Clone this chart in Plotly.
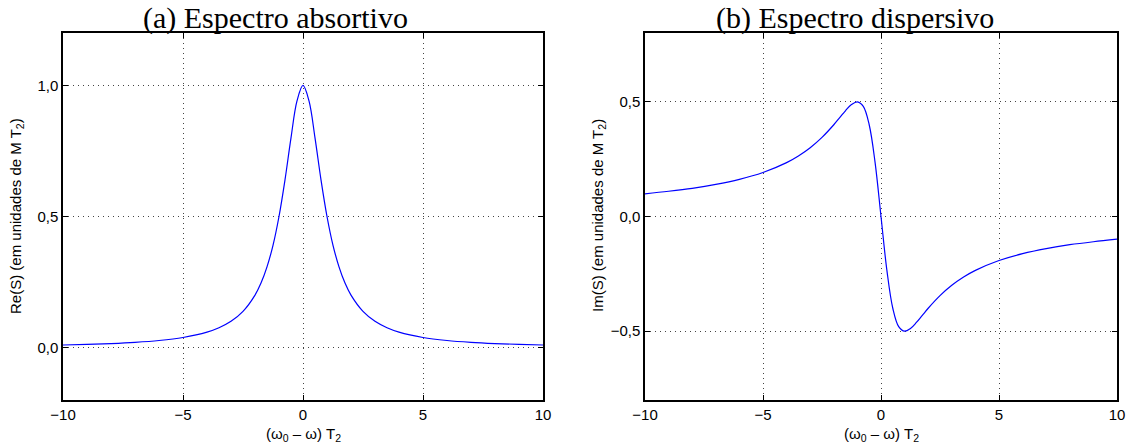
import plotly.graph_objects as go

# Frequency offset (omega0 - omega) T2
x_vals = [-10, -9, -8, -7, -6, -5, -4, -3.5, -3, -2.5, -2, -1.75, -1.5, -1.25, -1,
          -0.75, -0.5, -0.25, 0, 0.25, 0.5, 0.75, 1, 1.25, 1.5, 1.75, 2, 2.5, 3,
          3.5, 4, 5, 6, 7, 8, 9, 10]

# (a) absorptive spectrum Re(S)
re_vals = [0.0099, 0.0122, 0.0154, 0.020, 0.027, 0.0385, 0.0588, 0.0755, 0.100,
           0.138, 0.200, 0.246, 0.308, 0.390, 0.500, 0.640, 0.800, 0.941, 1.000,
           0.941, 0.800, 0.640, 0.500, 0.390, 0.308, 0.246, 0.200, 0.138, 0.100,
           0.0755, 0.0588, 0.0385, 0.027, 0.020, 0.0154, 0.0122, 0.0099]

# (b) dispersive spectrum Im(S)
im_vals = [0.099, 0.110, 0.123, 0.140, 0.162, 0.192, 0.235, 0.264, 0.300, 0.345,
           0.400, 0.431, 0.462, 0.488, 0.500, 0.480, 0.400, 0.235, 0.000,
           -0.235, -0.400, -0.480, -0.500, -0.488, -0.462, -0.431, -0.400, -0.345,
           -0.300, -0.264, -0.235, -0.192, -0.162, -0.140, -0.123, -0.110, -0.099]

x_ticks = [-10, -5, 0, 5, 10]
re_ticks = [0.0, 0.5, 1.0]
im_ticks = [-0.5, 0.0, 0.5]

titles = ["(a) Espectro absortivo", "(b) Espectro dispersivo"]
xlabel = "(ω<sub>0</sub> – ω) T<sub>2</sub>"
ylabels = ["Re(S) (em unidades de M T<sub>2</sub>)", "Im(S) (em unidades de M T<sub>2</sub>)"]

W, H = 1141, 448
left_dom = [63 / W, 543 / W]
right_dom = [645 / W, 1117 / W]
y_dom = [1 - 400 / H, 1 - 33 / H]

fig = go.Figure()
line = dict(color="#0000ff", width=1.2, shape="spline", smoothing=1.0)
fig.add_trace(go.Scatter(x=x_vals, y=re_vals, mode="lines", line=line,
                         xaxis="x", yaxis="y", showlegend=False))
fig.add_trace(go.Scatter(x=x_vals, y=im_vals, mode="lines", line=line,
                         xaxis="x2", yaxis="y2", showlegend=False))

tickfont = dict(family="Liberation Sans, Arial, sans-serif", size=15, color="black")
common = dict(showline=True, linecolor="black", linewidth=1.5, mirror="ticks",
              ticks="inside", ticklen=5, tickcolor="black", tickwidth=1,
              showgrid=True, gridcolor="#444444", gridwidth=1, griddash="1px,4px",
              zeroline=False, tickfont=tickfont, automargin=False)

fig.update_layout(
    width=W, height=H,
    margin=dict(l=0, r=0, t=0, b=0, autoexpand=False),
    paper_bgcolor="white", plot_bgcolor="white",
    separators=",.",
    xaxis=dict(domain=left_dom, range=[-10, 10], tickvals=x_ticks, anchor="y", **common),
    yaxis=dict(domain=y_dom, range=[-0.2, 1.2], tickvals=re_ticks, tickformat=".1f",
               anchor="x", **common),
    xaxis2=dict(domain=right_dom, range=[-10, 10], tickvals=x_ticks, anchor="y2", **common),
    yaxis2=dict(domain=y_dom, range=[-0.8, 0.8], tickvals=im_ticks, tickformat=".1f",
                anchor="x2", **common),
)

title_font = dict(family="Liberation Serif, DejaVu Serif, serif", size=30, color="black")
label_font = dict(family="Liberation Sans, Arial, sans-serif", size=15, color="black")
annotations = []
for dom, tx, t in zip([left_dom, right_dom], [275, 855], titles):
    cx = (dom[0] + dom[1]) / 2
    annotations.append(dict(text=t, x=tx / W, y=1 - 18 / H, xref="paper", yref="paper",
                            xanchor="center", yanchor="middle", showarrow=False, font=title_font))
    annotations.append(dict(text=xlabel, x=cx, y=1 - 434 / H, xref="paper", yref="paper",
                            xanchor="center", yanchor="middle", showarrow=False, font=label_font))
for xpx, t in zip([16, 598], ylabels):
    annotations.append(dict(text=t, x=xpx / W, y=1 - 216 / H, xref="paper", yref="paper",
                            xanchor="center", yanchor="middle", textangle=-90,
                            showarrow=False, font=label_font))
fig.update_layout(annotations=annotations)

fig.write_html("out.html")
